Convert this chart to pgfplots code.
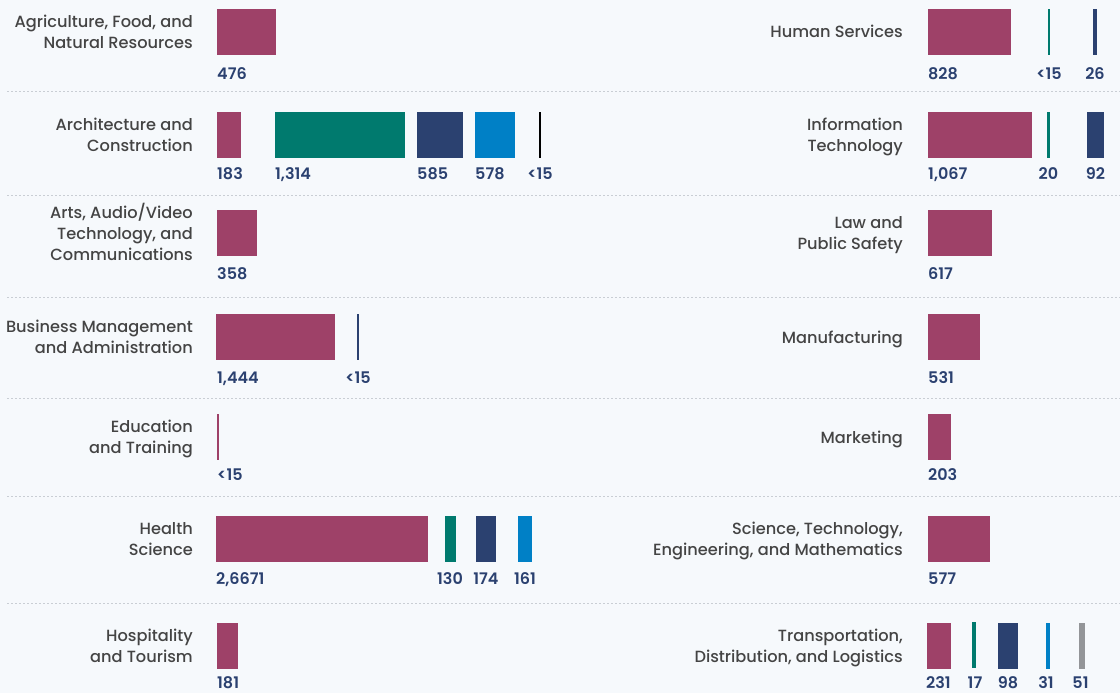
\documentclass[border=0pt]{standalone}
\usepackage{pgfplots}
\pgfplotsset{compat=1.18}
\usepackage{fontspec}
\setmainfont{Poppins}
\IfFontExistsTF{Poppins Medium}{\newfontfamily\catfont{Poppins Medium}}{\newfontfamily\catfont{Poppins}[FakeBold=0.6]}
\IfFontExistsTF{Poppins SemiBold}{\newfontfamily\numfont{Poppins SemiBold}}{\newfontfamily\numfont{Poppins}[FakeBold=1.5]}
\definecolor{bg}{HTML}{F6F9FC}
\definecolor{mag}{HTML}{9E4168}
\definecolor{teal}{HTML}{007A6E}
\definecolor{navy}{HTML}{2B4170}
\definecolor{blu}{HTML}{0080C6}
\definecolor{gry}{HTML}{939598}
\definecolor{txt}{HTML}{444444}
\definecolor{sep}{HTML}{C9CED4}
\newcommand{\ls}{\rule[-4.5pt]{0pt}{21pt}}
\newcommand{\bx}[5]{\addplot[draw=none,fill=#5] coordinates {(#1,#3) (#2,#3) (#2,#4) (#1,#4)} -- cycle;}
\tikzset{cat/.style={anchor=east,align=right,inner sep=0pt,text=txt,font=\catfont\fontsize{16.2pt}{21pt}\selectfont},
num/.style={inner sep=0pt,text=navy,font=\numfont\fontsize{16pt}{18pt}\selectfont}}
\begin{document}
\begin{tikzpicture}
\useasboundingbox (0,0) rectangle (1120pt,693pt);
\clip (0,0) rectangle (1120pt,693pt);
\fill[bg] (0,0) rectangle (1120pt,693pt);
\begin{axis}[at={(0,0)},anchor=south west,width=1120pt,height=693pt,scale only axis,
 xmin=0,xmax=1120,ymin=0,ymax=693,y dir=reverse,hide axis,clip=false]
% separators
\foreach \yy in {92,195,297,398,496,603}{
 \edef\tmp{\noexpand\addplot[sep,line width=1pt,dash pattern=on 2pt off 2pt] coordinates {(7,\yy) (1120,\yy)};}\tmp}
% left column bars
\bx{217}{276}{9}{55}{mag}
\bx{217}{241}{112}{158}{mag}
\bx{275}{405}{112}{158}{teal}
\bx{417}{463}{112}{158}{navy}
\bx{475}{515}{112}{158}{blu}
\bx{539}{541}{112}{158}{black}
\bx{217}{257}{210}{256}{mag}
\bx{216}{335}{314}{360}{mag}
\bx{357}{359}{314}{360}{navy}
\bx{217}{219}{414}{460}{mag}
\bx{216}{428}{516}{562}{mag}
\bx{445}{456}{516}{562}{teal}
\bx{476}{496}{516}{562}{navy}
\bx{518}{532}{516}{562}{blu}
\bx{217}{238}{623}{669}{mag}
% right column bars
\bx{928}{1011}{9}{55}{mag}
\bx{1048}{1050}{9}{55}{teal}
\bx{1093}{1097}{9}{55}{navy}
\bx{928}{1032}{112}{158}{mag}
\bx{1047}{1050}{112}{158}{teal}
\bx{1087}{1104}{112}{158}{navy}
\bx{928}{992}{210}{256}{mag}
\bx{928}{980}{314}{360}{mag}
\bx{928}{951}{414}{460}{mag}
\bx{928}{990}{516}{562}{mag}
\bx{927}{951}{623}{669}{mag}
\bx{972}{976}{622}{668}{teal}
\bx{998}{1018}{623}{669}{navy}
\bx{1046}{1050}{623}{669}{blu}
\bx{1079}{1085}{623}{669}{gry}
% category labels
\node[cat] at (193,32) {\ls Agriculture, Food, and\\\ls Natural Resources};
\node[cat] at (193,135) {\ls Architecture and\\\ls Construction};
\node[cat] at (193,233) {\ls Arts, Audio/Video\\\ls Technology, and\\\ls Communications};
\node[cat] at (193,337) {\ls Business Management\\\ls and Administration};
\node[cat] at (193,437) {\ls Education\\\ls and Training};
\node[cat] at (193,539) {\ls Health\\\ls Science};
\node[cat] at (193,646) {\ls Hospitality\\\ls and Tourism};
\node[cat] at (903,32) {\ls Human Services};
\node[cat] at (903,135) {\ls Information\\\ls Technology};
\node[cat] at (903,233) {\ls Law and\\\ls Public Safety};
\node[cat] at (903,337) {\ls Manufacturing};
\node[cat] at (903,437) {\ls Marketing};
\node[cat] at (903,539) {\ls Science, Technology,\\\ls Engineering, and Mathematics};
\node[cat] at (903,646) {\ls Transportation,\\\ls Distribution, and Logistics};
% numbers left
\node[num,anchor=base west] at (217,80) {476};
\node[num,anchor=base west] at (217,179) {183};
\node[num,anchor=base west] at (275,179) {1,314};
\node[num,anchor=base west] at (417,179) {585};
\node[num,anchor=base west] at (475,179) {578};
\node[num,anchor=base] at (540,179) {<15};
\node[num,anchor=base west] at (217,279) {358};
\node[num,anchor=base west] at (217,383) {1,444};
\node[num,anchor=base] at (358,383) {<15};
\node[num,anchor=base west] at (217,480) {<15};
\node[num,anchor=base west] at (216,584) {2,6671};
\node[num,anchor=base] at (450,584) {130};
\node[num,anchor=base] at (486,584) {174};
\node[num,anchor=base] at (525,584) {161};
\node[num,anchor=base west] at (217,688) {181};
% numbers right
\node[num,anchor=base west] at (928,80) {828};
\node[num,anchor=base] at (1049,80) {<15};
\node[num,anchor=base] at (1095,80) {26};
\node[num,anchor=base west] at (928,179) {1,067};
\node[num,anchor=base] at (1048.5,179) {20};
\node[num,anchor=base] at (1095.5,179) {92};
\node[num,anchor=base west] at (928,279) {617};
\node[num,anchor=base west] at (928,383) {531};
\node[num,anchor=base west] at (928,480) {203};
\node[num,anchor=base west] at (928,584) {577};
\node[num,anchor=base west] at (926,688) {231};
\node[num,anchor=base] at (975,688) {17};
\node[num,anchor=base] at (1008,688) {98};
\node[num,anchor=base] at (1046,688) {31};
\node[num,anchor=base] at (1080.5,688) {51};
\end{axis}
\end{tikzpicture}
\end{document}
